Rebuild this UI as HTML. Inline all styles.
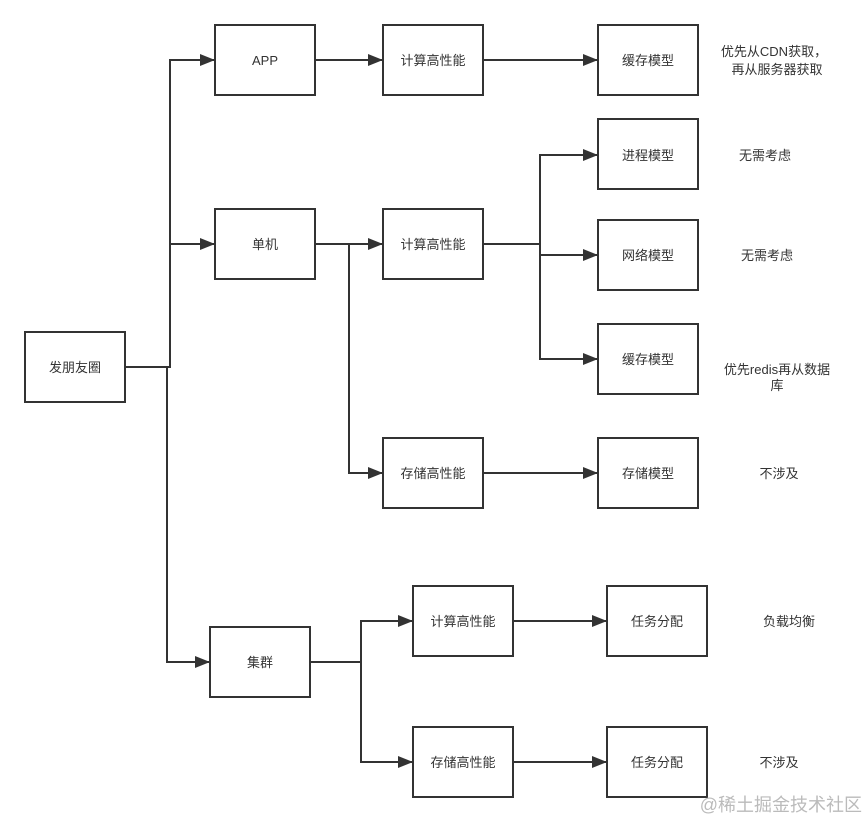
<!DOCTYPE html>
<html><head><meta charset="utf-8"><style>
html,body{margin:0;padding:0;background:#fff;width:865px;height:822px;overflow:hidden}
text{font-family:"Liberation Sans","Noto Sans CJK SC",sans-serif;font-size:13px;fill:#333}
</style></head><body>
<svg width="865" height="822" viewBox="0 0 865 822" xmlns="http://www.w3.org/2000/svg">
<defs><marker id="a" markerWidth="16" markerHeight="12" refX="15" refY="6" orient="auto" markerUnits="userSpaceOnUse"><path d="M0,0 L15,6 L0,12 Z" fill="#333"/></marker></defs>
<g fill="#fff" stroke="#333" stroke-width="2">
<rect x="25" y="332" width="100" height="70"/>
<rect x="215" y="25" width="100" height="70"/>
<rect x="215" y="209" width="100" height="70"/>
<rect x="210" y="627" width="100" height="70"/>
<rect x="383" y="25" width="100" height="70"/>
<rect x="383" y="209" width="100" height="70"/>
<rect x="383" y="438" width="100" height="70"/>
<rect x="598" y="25" width="100" height="70"/>
<rect x="598" y="119" width="100" height="70"/>
<rect x="598" y="220" width="100" height="70"/>
<rect x="598" y="324" width="100" height="70"/>
<rect x="598" y="438" width="100" height="70"/>
<rect x="413" y="586" width="100" height="70"/>
<rect x="413" y="727" width="100" height="70"/>
<rect x="607" y="586" width="100" height="70"/>
<rect x="607" y="727" width="100" height="70"/>
</g>
<g fill="none" stroke="#333" stroke-width="2">
<path d="M125,367 H170 V60 H215" marker-end="url(#a)"/>
<path d="M170,244 H215" marker-end="url(#a)"/>
<path d="M167,367 V662 H210" marker-end="url(#a)"/>
<path d="M315,60 H383" marker-end="url(#a)"/>
<path d="M483,60 H598" marker-end="url(#a)"/>
<path d="M315,244 H383" marker-end="url(#a)"/>
<path d="M349,244 V473 H383" marker-end="url(#a)"/>
<path d="M483,473 H598" marker-end="url(#a)"/>
<path d="M483,244 H540 V155 H598" marker-end="url(#a)"/>
<path d="M540,255 H598" marker-end="url(#a)"/>
<path d="M540,244 V359 H598" marker-end="url(#a)"/>
<path d="M310,662 H361 V621 H413" marker-end="url(#a)"/>
<path d="M361,662 V762 H413" marker-end="url(#a)"/>
<path d="M513,621 H607" marker-end="url(#a)"/>
<path d="M513,762 H607" marker-end="url(#a)"/>
</g>
<g text-anchor="middle">
<text x="75" y="372">发朋友圈</text>
<text x="265" y="65">APP</text>
<text x="265" y="249">单机</text>
<text x="260" y="667">集群</text>
<text x="433" y="65">计算高性能</text>
<text x="433" y="249">计算高性能</text>
<text x="433" y="478">存储高性能</text>
<text x="648" y="65">缓存模型</text>
<text x="648" y="160">进程模型</text>
<text x="648" y="260">网络模型</text>
<text x="648" y="364">缓存模型</text>
<text x="648" y="478">存储模型</text>
<text x="463" y="626">计算高性能</text>
<text x="463" y="767">存储高性能</text>
<text x="657" y="626">任务分配</text>
<text x="657" y="767">任务分配</text>
<text x="774" y="56">优先从CDN获取，</text>
<text x="777" y="74">再从服务器获取</text>
<text x="765" y="160">无需考虑</text>
<text x="767" y="260">无需考虑</text>
<text x="777" y="374">优先redis再从数据</text>
<text x="777" y="390">库</text>
<text x="779" y="478">不涉及</text>
<text x="789" y="626">负载均衡</text>
<text x="779" y="767">不涉及</text>
</g>
<text x="862" y="811" text-anchor="end" style="font-size:18px;fill:#bbb">@稀土掘金技术社区</text>
</svg>
</body></html>
